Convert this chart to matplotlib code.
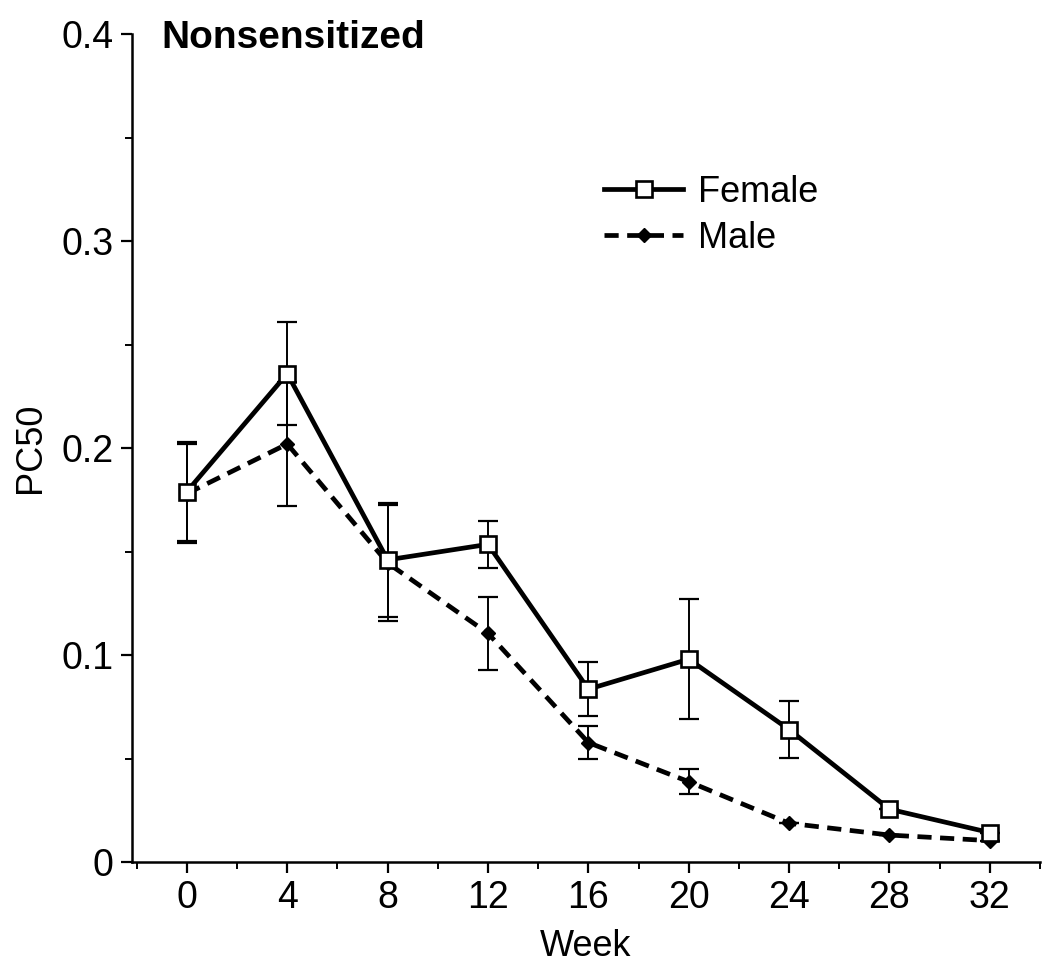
import matplotlib
matplotlib.use("Agg")
import matplotlib.pyplot as plt
from matplotlib.ticker import MultipleLocator, FuncFormatter

plt.rcParams['font.family'] = ['Liberation Sans', 'DejaVu Sans']

# --- data ---
weeks = [0, 4, 8, 12, 16, 20, 24, 28, 32]

female = [0.179, 0.236, 0.146, 0.1535, 0.0835, 0.098, 0.064, 0.0255, 0.0142]
female_err = [0.024, 0.025, 0.0275, 0.0113, 0.013, 0.029, 0.0138, 0.0, 0.0]

male = [0.178, 0.202, 0.1445, 0.1105, 0.0577, 0.0388, 0.0187, 0.013, 0.0103]
male_err = [0.024, 0.030, 0.028, 0.0177, 0.008, 0.006, 0.0, 0.0, 0.0]

x_ticks = [0, 4, 8, 12, 16, 20, 24, 28, 32]
y_ticks = [0, 0.1, 0.2, 0.3, 0.4]

fig = plt.figure(figsize=(10.5, 9.66), dpi=100)
ax = fig.add_axes([0.1254, 0.1077, 0.8651, 0.8568])

# error bars first (thin, with caps)
ax.errorbar(weeks, female, yerr=female_err, fmt='none', ecolor='black',
            elinewidth=1.4, capsize=7, capthick=1.6, zorder=2)
ax.errorbar(weeks, male, yerr=male_err, fmt='none', ecolor='black',
            elinewidth=1.4, capsize=7, capthick=1.6, zorder=2)

# lines
ax.plot(weeks, male, color='black', linestyle=(0, (3.0, 1.8)), linewidth=3.4,
        marker='D', markersize=7.5, markerfacecolor='black', markeredgecolor='black',
        label='Male', zorder=3)
ax.plot(weeks, female, color='black', linestyle='-', linewidth=3.4,
        marker='s', markersize=11, markerfacecolor='white', markeredgecolor='black',
        markeredgewidth=1.9, label='Female', zorder=4)

ax.set_xlim(-2.2, 34.0)
ax.set_ylim(0, 0.4)

ax.spines['top'].set_visible(False)
ax.spines['right'].set_visible(False)
ax.spines['left'].set_linewidth(1.8)
ax.spines['bottom'].set_linewidth(1.8)

ax.set_xticks(x_ticks)
ax.xaxis.set_minor_locator(MultipleLocator(2))
ax.set_yticks(y_ticks)
ax.yaxis.set_minor_locator(MultipleLocator(0.05))
ax.yaxis.set_major_formatter(FuncFormatter(lambda v, p: '0' if v == 0 else f'{v:.1f}'))

ax.tick_params(axis='both', which='major', direction='out', length=8, width=1.6,
               labelsize=27, pad=5)
ax.tick_params(axis='both', which='minor', direction='out', length=5, width=1.4)

ax.set_xlabel('Week', fontsize=26, labelpad=9)
ax.set_ylabel('PC50', fontsize=26, labelpad=10)

ax.text(0.033, 0.995, 'Nonsensitized', transform=ax.transAxes, fontsize=28,
        fontweight='bold', va='center', ha='left')

handles, labels = ax.get_legend_handles_labels()
ax.legend(handles[::-1], labels[::-1], loc='upper left',
          bbox_to_anchor=(0.50, 0.852), frameon=False, fontsize=26,
          handlelength=2.2, handletextpad=0.4, labelspacing=0.3, borderpad=0)

fig.savefig('out.png', dpi=100)
